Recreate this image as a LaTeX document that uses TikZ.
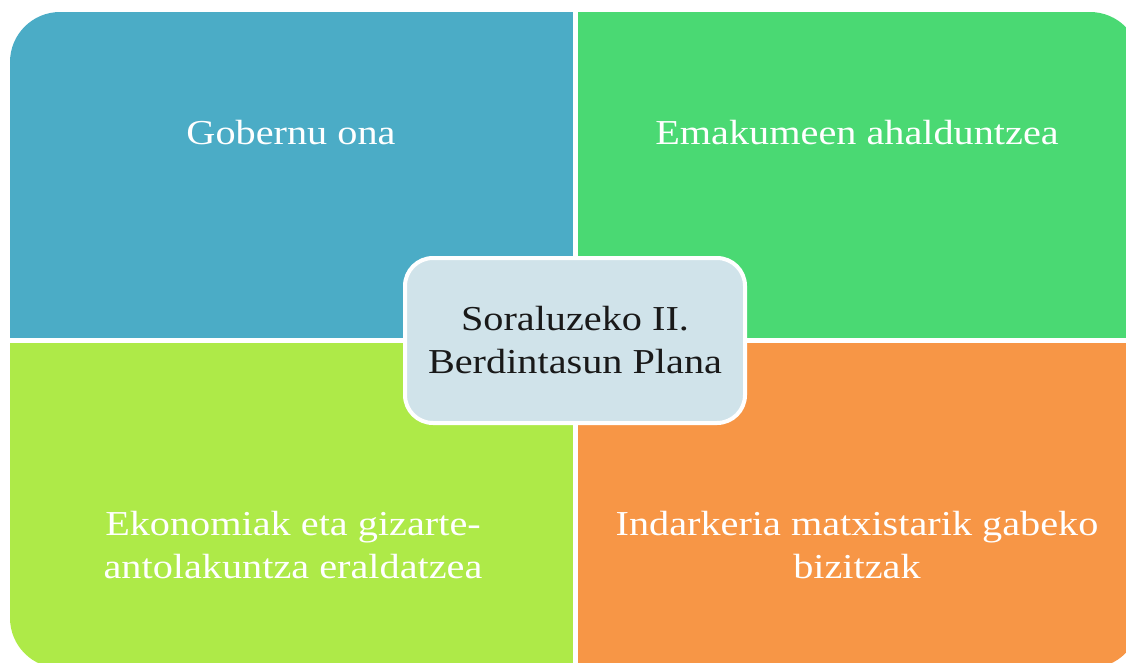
\documentclass[tikz,border=0pt]{standalone}
\usepackage{fontspec}
\setmainfont{Liberation Serif}[FakeStretch=1.15]
\definecolor{qblue}{RGB}{75,172,198}
\definecolor{qgreen}{RGB}{74,217,115}
\definecolor{qlime}{RGB}{174,234,72}
\definecolor{qorange}{RGB}{247,150,70}
\definecolor{cfill}{RGB}{208,227,234}
\tikzset{
  qtext/.style={text=white, align=center, font=\fontsize{35}{43}\selectfont, inner sep=0pt},
  ctext/.style={text=black!90, align=center, font=\fontsize{35}{43}\selectfont, inner sep=0pt},
}
\begin{document}
\begin{tikzpicture}[x=1pt,y=-1pt]
\useasboundingbox (0,0) rectangle (1126,662);
\begin{scope}
  \clip (0,0) rectangle (1126,662);
  \clip[rounded corners=50pt] (10,12) rectangle (1140,668);
  \fill[qblue] (0,0) rectangle (572.5,338);
  \fill[qgreen] (577.5,0) rectangle (1200,338);
  \fill[qlime] (0,343) rectangle (572.5,700);
  \fill[qorange] (577.5,343) rectangle (1200,700);
\end{scope}
\node[qtext] (tl) at (291,133) {Gobernu ona};
\node[qtext] (tr) at (857,133) {Emakumeen ahalduntzea};
\node[qtext] (bl) at (293,545) {Ekonomiak eta gizarte-\\antolakuntza eraldatzea};
\node[qtext] (br) at (857,545) {Indarkeria matxistarik gabeko\\bizitzak};
\draw[white, line width=4pt, fill=cfill, rounded corners=28pt] (405,258) rectangle (745,423);
\node[ctext] (c) at (575,340) {Soraluzeko II.\\Berdintasun Plana};
\end{tikzpicture}
\end{document}
